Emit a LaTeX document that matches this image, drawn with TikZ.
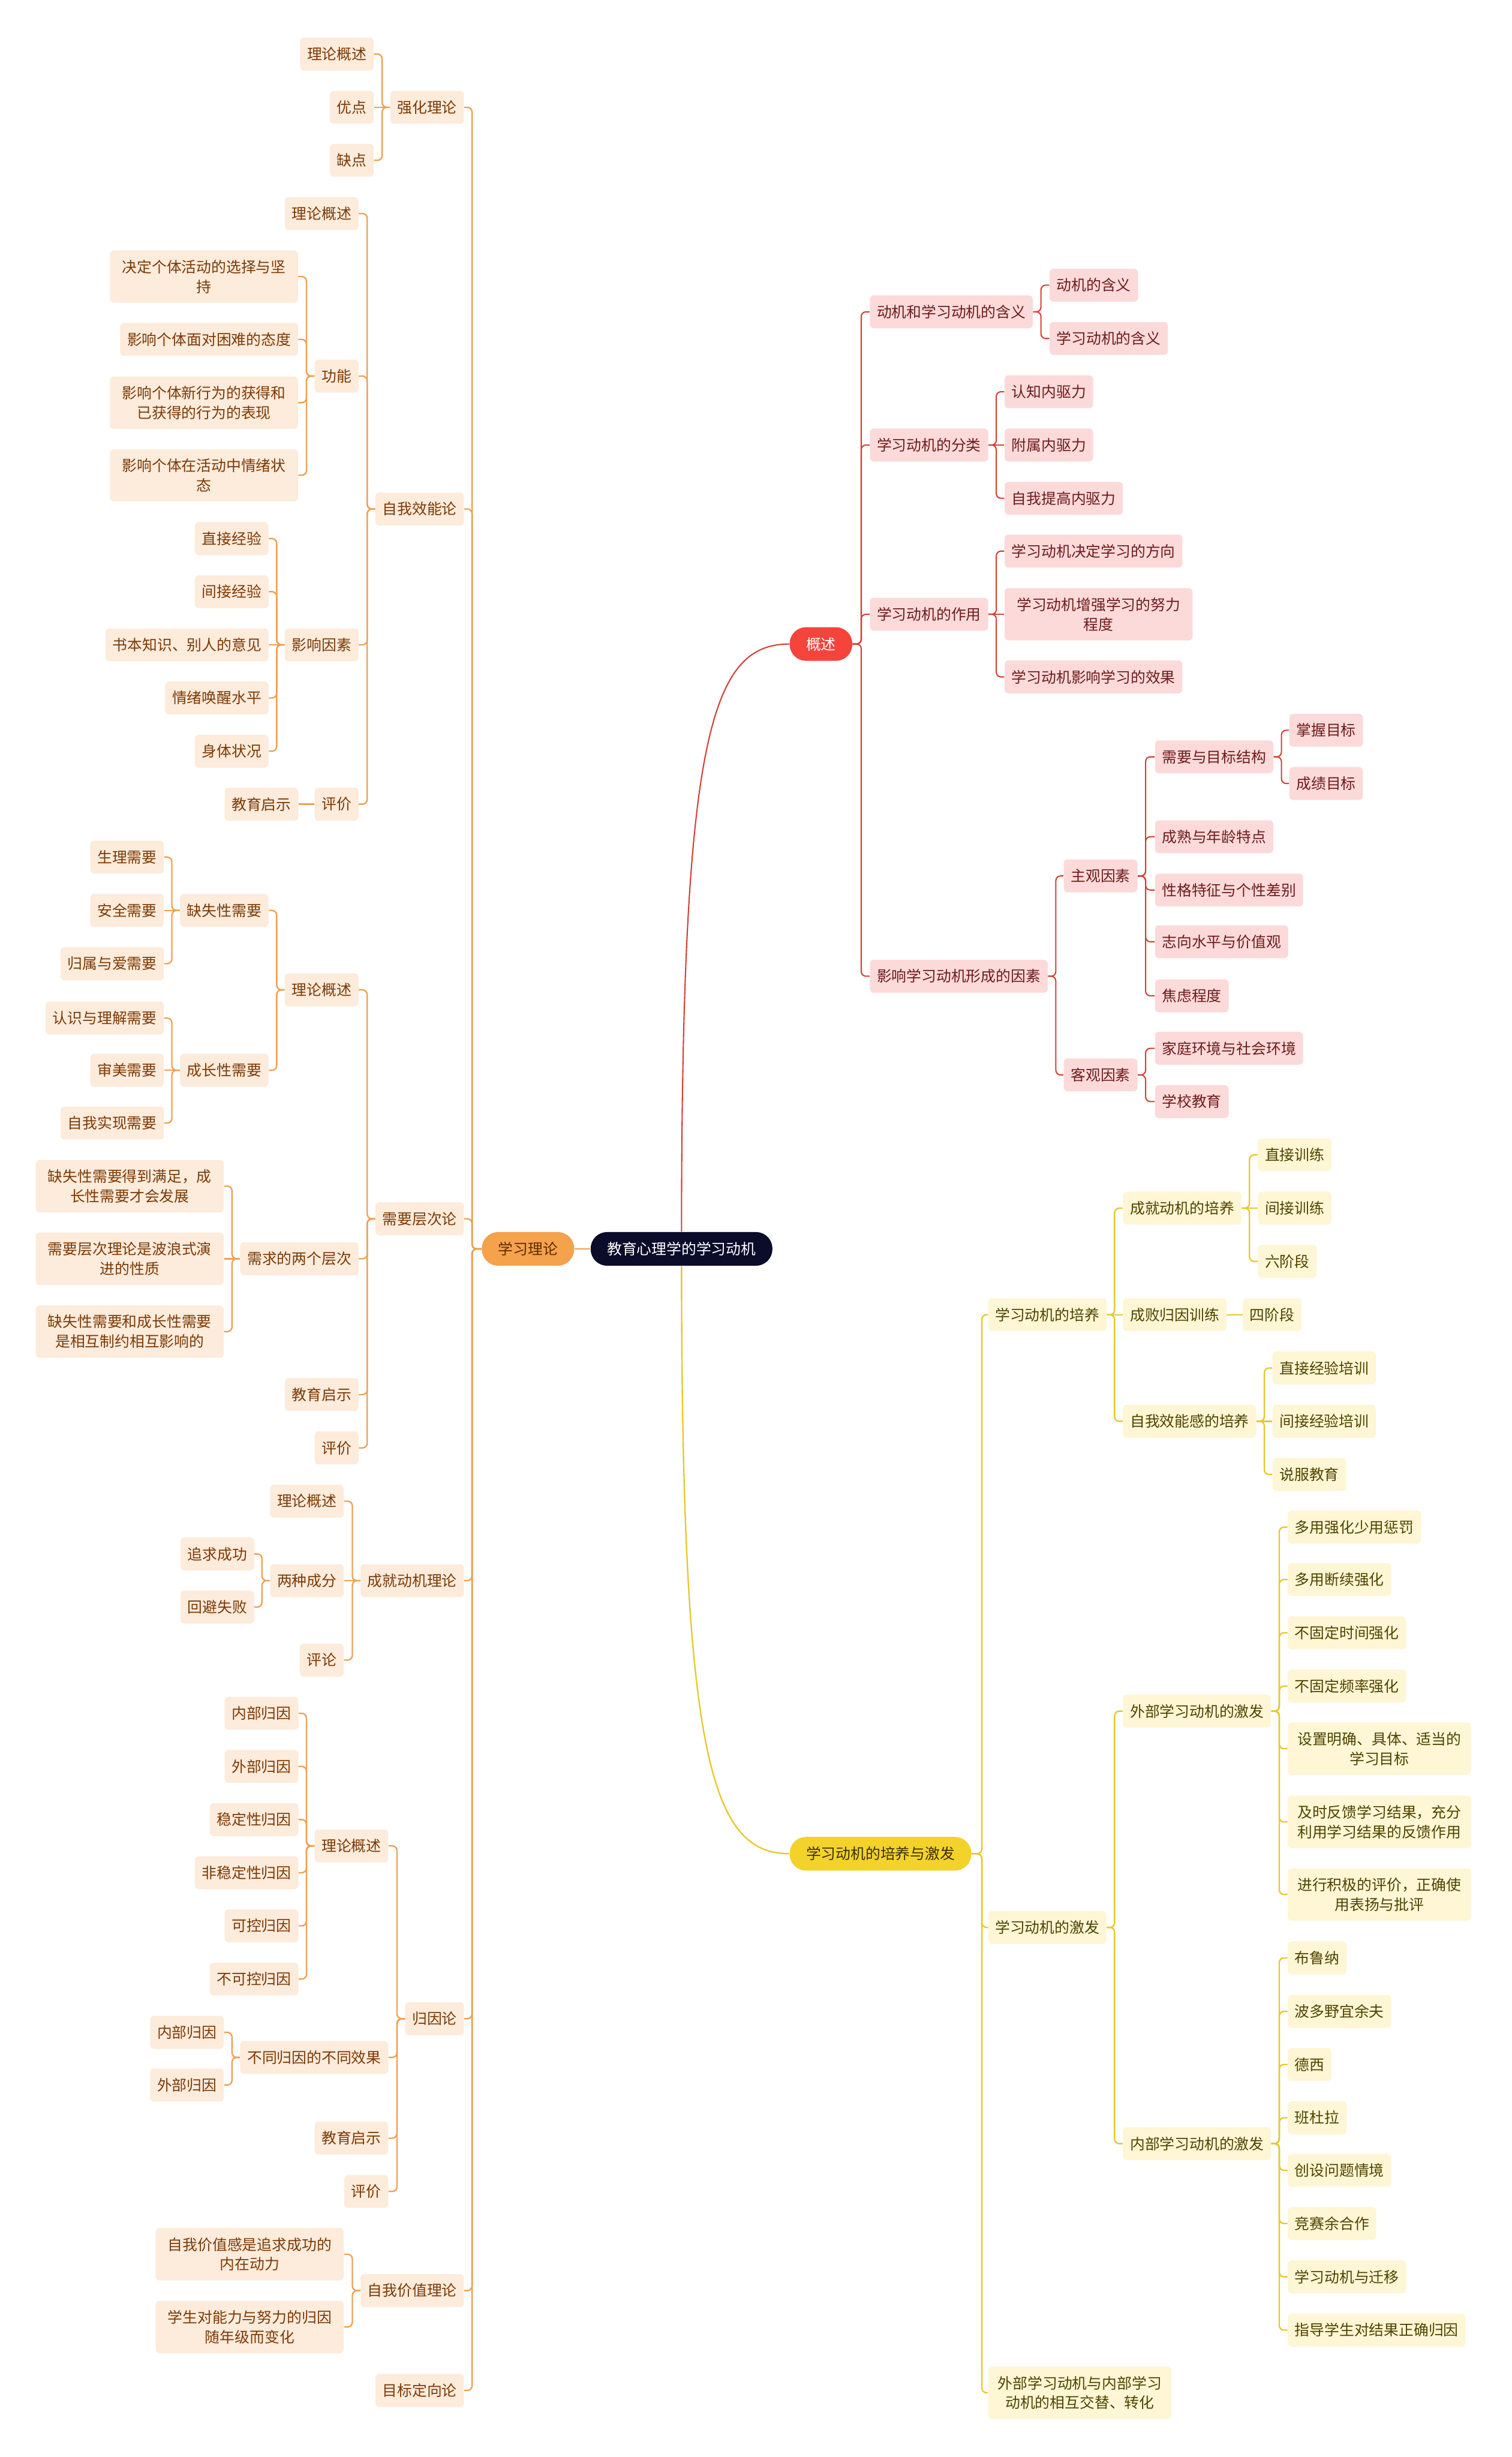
\documentclass[tikz,border=0pt]{standalone}
\usepackage{fontspec}
\setmainfont{Noto Sans CJK SC}

\definecolor{rootc}{HTML}{0B0B2A}
\definecolor{ohead}{HTML}{F4A24C}
\definecolor{ohtext}{HTML}{5C2C00}
\definecolor{ofill}{HTML}{FDEBDB}
\definecolor{otext}{HTML}{7B3A06}
\definecolor{ocol}{HTML}{EFA052}
\definecolor{rhead}{HTML}{F4443C}
\definecolor{rfill}{HTML}{FCDADA}
\definecolor{rtext}{HTML}{6E1B1B}
\definecolor{rcol}{HTML}{D63F35}
\definecolor{yhead}{HTML}{F3D22B}
\definecolor{yhtext}{HTML}{3D3100}
\definecolor{yfill}{HTML}{FEF6D4}
\definecolor{ytext}{HTML}{4F4300}
\definecolor{ycol}{HTML}{E8C82A}

\tikzset{
	box/.style={rounded corners=2.5pt, inner xsep=4.5pt, inner ysep=6pt, minimum height=21pt, font=\fontsize{9.5}{12.6}\selectfont},
	two/.style={align=center, text width=105pt, inner xsep=7.5pt},
	head/.style={rounded corners=10.5pt, inner xsep=10.5pt, inner ysep=6pt, minimum height=21.5pt, font=\fontsize{9.5}{12.6}\selectfont},
	onode/.style={box, anchor=east, fill=ofill, text=otext},
	rnode/.style={box, anchor=west, fill=rfill, text=rtext},
	ynode/.style={box, anchor=west, fill=yfill, text=ytext},
	ol/.style={draw=ocol, line width=0.9pt, rounded corners=3pt},
	rl/.style={draw=rcol, line width=0.8pt, rounded corners=3pt},
	yl/.style={draw=ycol, line width=0.9pt, rounded corners=3pt}
}

\begin{document}
\begin{tikzpicture}[x=1pt, y=-1pt]
	\fill[white] (0,0) rectangle (965,1568);

	\node[head, fill=rootc, text=white] (R)at(435, 797) {教育心理学的学习动机};
	\node[head, fill=ohead, text=ohtext] (LT)at(337, 797) {学习理论};
	\node[head, fill=rhead, text=white] (GS)at(524, 411) {概述};
	\node[head, fill=yhead, text=yhtext] (YS)at(562, 1183) {学习动机的培养与激发};

	\node[onode] (qh)at(296.3, 68.5) {强化理论};
	\node[onode] (qh1)at(238.7, 34.5) {理论概述};
	\node[onode] (qh2)at(238.7, 68.5) {优点};
	\node[onode] (qh3)at(238.7, 102.3) {缺点};

	\node[onode] (zx)at(296.3, 324.8) {自我效能论};
	\node[onode] (zx1)at(229, 136.3) {理论概述};
	\node[onode] (zx2)at(229, 240) {功能};
	\node[onode] (zx3)at(229, 411.5) {影响因素};
	\node[onode] (zx4)at(229, 513.2) {评价};
	\node[onode, two] (gn1)at(190.4, 176.5) {决定个体活动的选择与坚\\持};
	\node[onode] (gn2)at(190.4, 216.6) {影响个体面对困难的态度};
	\node[onode, two] (gn3)at(190.4, 257) {影响个体新行为的获得和\\已获得的行为的表现};
	\node[onode, two] (gn4)at(190.4, 303.3) {影响个体在活动中情绪状\\态};
	\node[onode] (ys1)at(171.6, 343.7) {直接经验};
	\node[onode] (ys2)at(171.6, 377.6) {间接经验};
	\node[onode] (ys3)at(171.6, 411.5) {书本知识、别人的意见};
	\node[onode] (ys4)at(171.6, 445.4) {情绪唤醒水平};
	\node[onode] (ys5)at(171.6, 479.4) {身体状况};
	\node[onode] (pj1)at(190.6, 513.2) {教育启示};

	\node[onode] (xc)at(296.3, 777.8) {需要层次论};
	\node[onode] (xc1)at(229, 631.7) {理论概述};
	\node[onode] (xc2)at(229, 803.3) {需求的两个层次};
	\node[onode] (xc3)at(229, 890) {教育启示};
	\node[onode] (xc4)at(229, 924) {评价};
	\node[onode] (qs)at(171.6, 581) {缺失性需要};
	\node[onode] (cz)at(171.6, 683) {成长性需要};
	\node[onode] (qs1)at(104.8, 547) {生理需要};
	\node[onode] (qs2)at(104.8, 581) {安全需要};
	\node[onode] (qs3)at(104.8, 615) {归属与爱需要};
	\node[onode] (cz1)at(104.8, 649.7) {认识与理解需要};
	\node[onode] (cz2)at(104.8, 683) {审美需要};
	\node[onode] (cz3)at(104.8, 716.7) {自我实现需要};
	\node[onode, two] (cc1)at(143, 757) {缺失性需要得到满足，成\\长性需要才会发展};
	\node[onode, two] (cc2)at(143, 803.3) {需要层次理论是波浪式演\\进的性质};
	\node[onode, two] (cc3)at(143, 849.8) {缺失性需要和成长性需要\\是相互制约相互影响的};

	\node[onode] (cj)at(296.3, 1008.7) {成就动机理论};
	\node[onode] (cj1)at(219.6, 958) {理论概述};
	\node[onode] (cj2)at(219.6, 1008.7) {两种成分};
	\node[onode] (cj3)at(219.6, 1059.4) {评论};
	\node[onode] (cf1)at(162.4, 991.7) {追求成功};
	\node[onode] (cf2)at(162.4, 1025.6) {回避失败};

	\node[onode] (gy)at(296.3, 1288.3) {归因论};
	\node[onode] (gy1)at(248, 1178) {理论概述};
	\node[onode] (gy2)at(248, 1313) {不同归因的不同效果};
	\node[onode] (gy3)at(248, 1364.5) {教育启示};
	\node[onode] (gy4)at(248, 1398.5) {评价};
	\node[onode] (gl1)at(190.6, 1093.4) {内部归因};
	\node[onode] (gl2)at(190.6, 1127.3) {外部归因};
	\node[onode] (gl3)at(190.6, 1161.2) {稳定性归因};
	\node[onode] (gl4)at(190.6, 1195.1) {非稳定性归因};
	\node[onode] (gl5)at(190.6, 1229) {可控归因};
	\node[onode] (gl6)at(190.6, 1263) {不可控归因};
	\node[onode] (gx1)at(143, 1297) {内部归因};
	\node[onode] (gx2)at(143, 1330.6) {外部归因};

	\node[onode] (jz)at(296.3, 1461.8) {自我价值理论};
	\node[onode, two] (jz1)at(219.6, 1438.6) {自我价值感是追求成功的\\内在动力};
	\node[onode, two] (jz2)at(219.6, 1485) {学生对能力与努力的归因\\随年级而变化};
	\node[onode] (mb)at(296.3, 1525.5) {目标定向论};

	\node[rnode] (gs1)at(555, 199) {动机和学习动机的含义};
	\node[rnode] (gs2)at(555, 284) {学习动机的分类};
	\node[rnode] (gs3)at(555, 392) {学习动机的作用};
	\node[rnode] (gs4)at(555, 623) {影响学习动机形成的因素};
	\node[rnode] (hy1)at(669.7, 182) {动机的含义};
	\node[rnode] (hy2)at(669.7, 216) {学习动机的含义};
	\node[rnode] (fl1)at(641, 250) {认知内驱力};
	\node[rnode] (fl2)at(641, 284) {附属内驱力};
	\node[rnode] (fl3)at(641, 318) {自我提高内驱力};
	\node[rnode] (zy1)at(641, 351.7) {学习动机决定学习的方向};
	\node[rnode, two] (zy2)at(641, 392) {学习动机增强学习的努力\\程度};
	\node[rnode] (zy3)at(641, 432) {学习动机影响学习的效果};
	\node[rnode] (zg)at(678.8, 559) {主观因素};
	\node[rnode] (kg)at(678.8, 686) {客观因素};
	\node[rnode] (zg1)at(737, 483) {需要与目标结构};
	\node[rnode] (zg2)at(737, 534) {成熟与年龄特点};
	\node[rnode] (zg3)at(737, 568) {性格特征与个性差别};
	\node[rnode] (zg4)at(737, 601) {志向水平与价值观};
	\node[rnode] (zg5)at(737, 635.5) {焦虑程度};
	\node[rnode] (mt1)at(822.7, 466) {掌握目标};
	\node[rnode] (mt2)at(822.7, 500) {成绩目标};
	\node[rnode] (kg1)at(737, 669) {家庭环境与社会环境};
	\node[rnode] (kg2)at(737, 703) {学校教育};

	\node[ynode] (yp)at(630.5, 839) {学习动机的培养};
	\node[ynode] (yj)at(630.5, 1230) {学习动机的激发};
	\node[ynode, two, inner xsep=6pt] (yz)at(630.5, 1527) {外部学习动机与内部学习\\动机的相互交替、转化};
	\node[ynode] (yp1)at(716.6, 771) {成就动机的培养};
	\node[ynode] (yp2)at(716.6, 839) {成败归因训练};
	\node[ynode] (yp3)at(716.6, 907) {自我效能感的培养};
	\node[ynode] (cd1)at(802.7, 737) {直接训练};
	\node[ynode] (cd2)at(802.7, 771) {间接训练};
	\node[ynode] (cd3)at(802.7, 805) {六阶段};
	\node[ynode] (sj)at(793, 839) {四阶段};
	\node[ynode] (zw1)at(812, 873) {直接经验培训};
	\node[ynode] (zw2)at(812, 907) {间接经验培训};
	\node[ynode] (zw3)at(812, 941) {说服教育};
	\node[ynode] (yj1)at(716.6, 1092) {外部学习动机的激发};
	\node[ynode] (yj2)at(716.6, 1368) {内部学习动机的激发};
	\node[ynode] (wb1)at(821.7, 974.6) {多用强化少用惩罚};
	\node[ynode] (wb2)at(821.7, 1008) {多用断续强化};
	\node[ynode] (wb3)at(821.7, 1042) {不固定时间强化};
	\node[ynode] (wb4)at(821.7, 1076) {不固定频率强化};
	\node[ynode, two, inner xsep=6pt] (wb5)at(821.7, 1116) {设置明确、具体、适当的\\学习目标};
	\node[ynode, two, inner xsep=6pt] (wb6)at(821.7, 1162.7) {及时反馈学习结果，充分\\利用学习结果的反馈作用};
	\node[ynode, two, inner xsep=6pt] (wb7)at(821.7, 1209) {进行积极的评价，正确使\\用表扬与批评};
	\node[ynode] (nb1)at(821.7, 1249.5) {布鲁纳};
	\node[ynode] (nb2)at(821.7, 1283.6) {波多野宜余夫};
	\node[ynode] (nb3)at(821.7, 1317.5) {德西};
	\node[ynode] (nb4)at(821.7, 1351.5) {班杜拉};
	\node[ynode] (nb5)at(821.7, 1385) {创设问题情境};
	\node[ynode] (nb6)at(821.7, 1419) {竞赛余合作};
	\node[ynode] (nb7)at(821.7, 1453) {学习动机与迁移};
	\node[ynode] (nb8)at(821.7, 1487) {指导学生对结果正确归因};

	\draw[ol] (LT.east) -- (R.west);
	\draw[rcol, line width=0.8pt] (R.north) .. controls +(0,-316) and +(-50,0) .. (GS.west);
	\draw[ycol, line width=0.9pt] (R.south) .. controls +(0,313) and +(-50,0) .. (YS.west);

	\foreach \b in {qh,zx,xc,cj,gy,jz,mb}
		\draw[ol] (LT.west) -- ++(-6,0) |- (\b.east);
	\foreach \a/\b in {qh/qh1,qh/qh3,zx/zx1,zx/zx2,zx/zx3,zx/zx4,zx2/gn1,zx2/gn2,zx2/gn3,zx2/gn4,
		zx3/ys1,zx3/ys2,zx3/ys4,zx3/ys5,xc/xc1,xc/xc2,xc/xc3,xc/xc4,xc1/qs,xc1/cz,
		qs/qs1,qs/qs3,cz/cz1,cz/cz3,xc2/cc1,xc2/cc3,cj/cj1,cj/cj3,cj2/cf1,cj2/cf2,
		gy/gy1,gy/gy2,gy/gy3,gy/gy4,gy1/gl1,gy1/gl2,gy1/gl3,gy1/gl4,gy1/gl5,gy1/gl6,gy2/gx1,gy2/gx2,jz/jz1,jz/jz2}
		\draw[ol] (\a.west) -- ++(-5,0) |- (\b.east);
	\foreach \a/\b in {qh/qh2,zx3/ys3,zx4/pj1,qs/qs2,cz/cz2,xc2/cc2,cj/cj2}
		\draw[ol] (\a.west) -- (\b.east);

	\foreach \b in {gs1,gs2,gs3,gs4}
		\draw[rl] (GS.east) -- ++(5.5,0) |- (\b.west);
	\foreach \a/\b in {gs1/hy1,gs1/hy2,gs2/fl1,gs2/fl3,gs3/zy1,gs3/zy3,gs4/zg,gs4/kg,
		zg/zg1,zg/zg2,zg/zg3,zg/zg4,zg/zg5,zg1/mt1,zg1/mt2,kg/kg1,kg/kg2}
		\draw[rl] (\a.east) -- ++(5,0) |- (\b.west);
	\foreach \a/\b in {gs2/fl2,gs3/zy2}
		\draw[rl] (\a.east) -- (\b.west);

	\foreach \b in {yp,yj,yz}
		\draw[yl] (YS.east) -- ++(6.5,0) |- (\b.west);
	\foreach \a/\b in {yp/yp1,yp/yp3,yp1/cd1,yp1/cd3,yp3/zw1,yp3/zw3,
		yj/yj1,yj/yj2,yj1/wb1,yj1/wb2,yj1/wb3,yj1/wb4,yj1/wb5,yj1/wb6,yj1/wb7,
		yj2/nb1,yj2/nb2,yj2/nb3,yj2/nb4,yj2/nb5,yj2/nb6,yj2/nb7,yj2/nb8}
		\draw[yl] (\a.east) -- ++(5,0) |- (\b.west);
	\foreach \a/\b in {yp/yp2,yp1/cd2,yp2/sj,yp3/zw2}
		\draw[yl] (\a.east) -- (\b.west);
\end{tikzpicture}
\end{document}
